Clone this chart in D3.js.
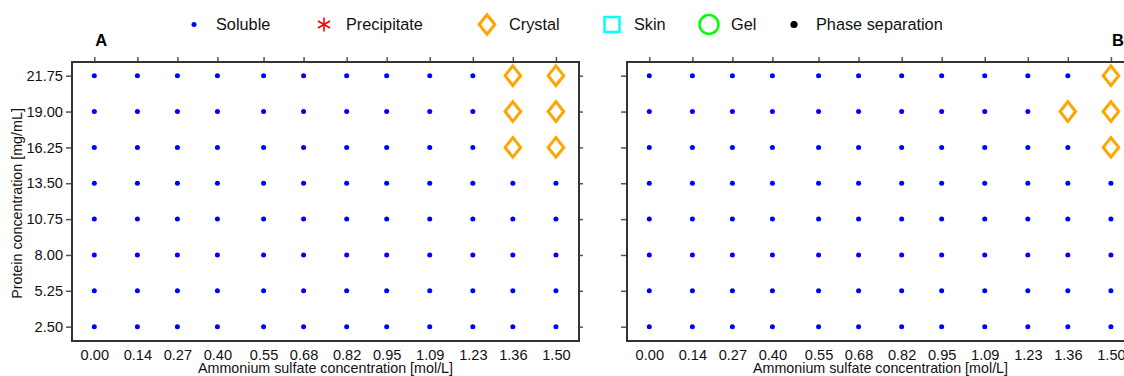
<!DOCTYPE html>
<html>
<head>
<meta charset="utf-8">
<script src="https://cdn.jsdelivr.net/npm/d3@7"></script>
<style>
  html, body { margin: 0; padding: 0; background: #fff; }
  svg { display: block; font-family: "Liberation Sans", Arial, Helvetica, sans-serif; }
</style>
</head>
<body>
<svg id="chart" width="1124" height="376"></svg>
<script>
// Screening grid: ammonium sulfate (mol/L) x protein (mg/mL)
const saltLevels = [0.00, 0.14, 0.27, 0.40, 0.55, 0.68, 0.82, 0.95, 1.09, 1.23, 1.36, 1.50];
const saltLabels = ["0.00", "0.14", "0.27", "0.40", "0.55", "0.68", "0.82", "0.95", "1.09", "1.23", "1.36", "1.50"];
const proteinLevels = [2.50, 5.25, 8.00, 10.75, 13.50, 16.25, 19.00, 21.75];
const proteinLabels = ["2.50", "5.25", "8.00", "10.75", "13.50", "16.25", "19.00", "21.75"];

// Wells that gave crystals, as [salt, protein]; all other wells stayed soluble
const crystalsA = [[1.36, 16.25], [1.36, 19.00], [1.36, 21.75], [1.50, 16.25], [1.50, 19.00], [1.50, 21.75]];
const crystalsB = [[1.50, 16.25], [1.36, 19.00], [1.50, 19.00], [1.50, 21.75]];

const outcomeNames = ["Soluble", "Precipitate", "Crystal", "Skin", "Gel", "Phase separation"];
const outcomeColors = ["#0000ff", "#ff0000", "#ffa500", "#00ffff", "#00ff00", "#000000"];

const svg = d3.select("#chart");
const plotTop = 62, plotBottom = 341;
const panels = [
  { id: "A", left: 72, right: 579, crystals: crystalsA, yLabels: true },
  { id: "B", left: 627, right: 1134, crystals: crystalsB, yLabels: false }
];

const y = d3.scaleLinear().domain([1.4, 22.8]).range([plotBottom, plotTop]);
const diamondHalfW = 7.8, diamondHalfH = 9.8;

function diamondPath(cx, cy) {
  return `M${cx},${cy - diamondHalfH}L${cx + diamondHalfW},${cy}L${cx},${cy + diamondHalfH}L${cx - diamondHalfW},${cy}Z`;
}

panels.forEach(p => {
  const x = d3.scaleLinear().domain([-0.0725, 1.575]).range([p.left, p.right]);
  const g = svg.append("g");

  // top ticks
  const topAxis = g.append("g").attr("transform", `translate(0,${plotTop})`)
    .call(d3.axisTop(x).tickValues(saltLevels).tickSize(5).tickFormat(""));
  // bottom labels (no tick marks)
  const botAxis = g.append("g").attr("transform", `translate(0,${plotBottom})`)
    .call(d3.axisBottom(x).tickValues(saltLevels).tickSize(0).tickPadding(9)
      .tickFormat((d, i) => saltLabels[i]));
  // left axis
  const leftAxis = g.append("g").attr("transform", `translate(${p.left},0)`)
    .call(d3.axisLeft(y).tickValues(proteinLevels).tickSize(6).tickPadding(3)
      .tickFormat((d, i) => p.yLabels ? proteinLabels[i] : ""));
  // right ticks
  const rightAxis = g.append("g").attr("transform", `translate(${p.right},0)`)
    .call(d3.axisRight(y).tickValues(proteinLevels).tickSize(4).tickFormat(""));

  [topAxis, botAxis, leftAxis, rightAxis].forEach(a => {
    a.select(".domain").remove();
    a.selectAll(".tick line").attr("stroke", "#555").attr("stroke-width", 1.5);
    a.selectAll(".tick text").attr("font-size", 14.6).attr("fill", "#111")
      .attr("font-family", "Liberation Sans, Arial, sans-serif");
  });

  // plot frame
  g.append("rect")
    .attr("x", p.left).attr("y", plotTop)
    .attr("width", p.right - p.left).attr("height", plotBottom - plotTop)
    .attr("fill", "none").attr("stroke", "#333").attr("stroke-width", 2);

  // all wells
  const isCrystal = (s, c) => p.crystals.some(d => d[0] === s && d[1] === c);
  const wells = [];
  proteinLevels.forEach(c => saltLevels.forEach(s => wells.push({ s, c, crystal: isCrystal(s, c) })));

  g.selectAll("circle.soluble").data(wells.filter(w => !w.crystal)).join("circle")
    .attr("class", "soluble")
    .attr("cx", d => x(d.s)).attr("cy", d => y(d.c)).attr("r", 2.5)
    .attr("fill", outcomeColors[0]);

  g.selectAll("path.crystal").data(wells.filter(w => w.crystal)).join("path")
    .attr("class", "crystal")
    .attr("d", d => diamondPath(x(d.s), y(d.c)))
    .attr("fill", "none").attr("stroke", outcomeColors[2]).attr("stroke-width", 3)
    .attr("stroke-linejoin", "miter");

  // panel letter
  g.append("text")
    .attr("x", p.id === "A" ? x(0) + 7 : x(1.5) + 7).attr("y", 46)
    .attr("text-anchor", "middle").attr("font-weight", "bold").attr("font-size", 16.5)
    .text(p.id);

  // x axis title
  g.append("text")
    .attr("x", (p.left + p.right) / 2).attr("y", 373)
    .attr("text-anchor", "middle").attr("font-size", 14.3).attr("fill", "#111")
    .text("Ammonium sulfate concentration [mol/L]");
});

// y axis title
svg.append("text")
  .attr("transform", `translate(22,${(plotTop + plotBottom) / 2 + 2}) rotate(-90)`)
  .attr("text-anchor", "middle").attr("font-size", 14.3).attr("fill", "#111")
  .text("Protein concentration [mg/mL]");

// legend
const legendX = [194, 324, 487, 612, 709, 794];
const legendY = 24.5;
const legend = svg.append("g");
outcomeNames.forEach((name, i) => {
  const cx = legendX[i];
  const col = outcomeColors[i];
  if (i === 0) {
    legend.append("circle").attr("cx", cx).attr("cy", legendY).attr("r", 2.5).attr("fill", col);
  } else if (i === 1) {
    const r = 7;
    [0, 60, 120].forEach(a => {
      const rad = a * Math.PI / 180;
      legend.append("line")
        .attr("x1", cx - r * Math.sin(rad)).attr("y1", legendY - r * Math.cos(rad))
        .attr("x2", cx + r * Math.sin(rad)).attr("y2", legendY + r * Math.cos(rad))
        .attr("stroke", col).attr("stroke-width", 1.6);
    });
  } else if (i === 2) {
    legend.append("path").attr("d", diamondPath(cx, legendY))
      .attr("fill", "none").attr("stroke", col).attr("stroke-width", 3);
  } else if (i === 3) {
    legend.append("rect").attr("x", cx - 7.5).attr("y", legendY - 7.5)
      .attr("width", 15).attr("height", 15)
      .attr("fill", "none").attr("stroke", col).attr("stroke-width", 2.5);
  } else if (i === 4) {
    legend.append("circle").attr("cx", cx).attr("cy", legendY).attr("r", 9.5)
      .attr("fill", "none").attr("stroke", col).attr("stroke-width", 2.5);
  } else {
    legend.append("circle").attr("cx", cx).attr("cy", legendY).attr("r", 3.6).attr("fill", col);
  }
  legend.append("text")
    .attr("x", cx + 22).attr("y", legendY).attr("dy", "0.35em")
    .attr("font-size", 16.3).attr("fill", "#111")
    .text(name);
});
</script>
</body>
</html>
